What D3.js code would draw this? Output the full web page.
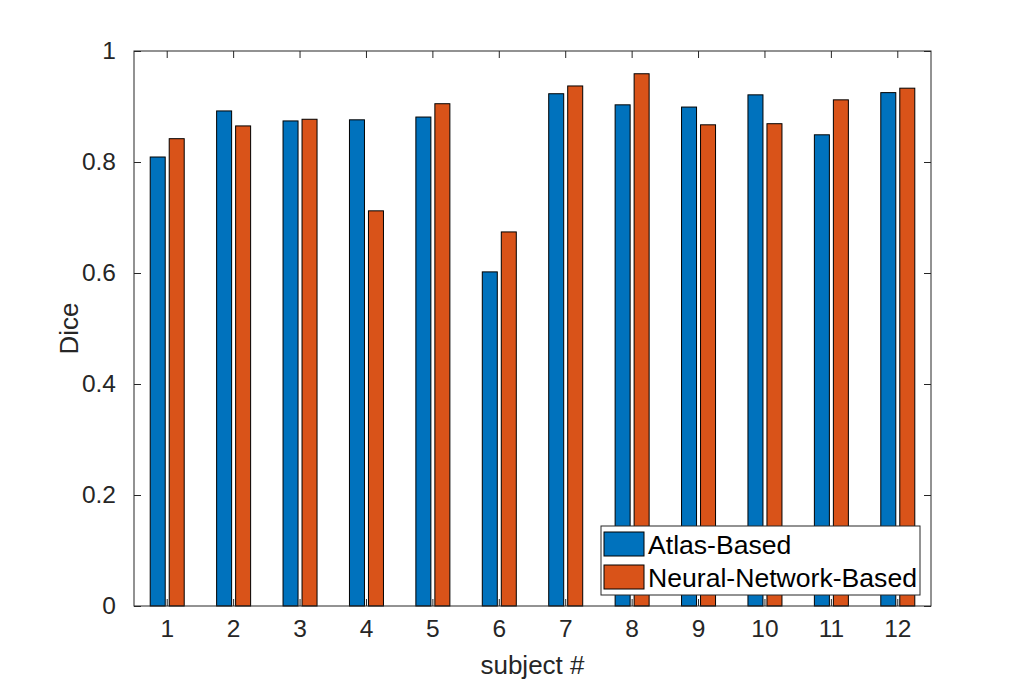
<!DOCTYPE html>
<html>
<head>
<meta charset="utf-8">
<script src="https://cdn.jsdelivr.net/npm/d3@7"></script>
<style>
  html, body { margin: 0; padding: 0; background: #fff; }
</style>
</head>
<body>
<div id="chart"></div>
<script>
const subjects = ['1', '2', '3', '4', '5', '6', '7', '8', '9', '10', '11', '12'];
const seriesNames = ['Atlas-Based', 'Neural-Network-Based'];
const atlasDice = [0.809, 0.892, 0.874, 0.876, 0.881, 0.602, 0.923, 0.903, 0.899, 0.921, 0.849, 0.925];
const networkDice = [0.842, 0.865, 0.877, 0.712, 0.905, 0.674, 0.937, 0.959, 0.867, 0.869, 0.912, 0.933];
const yTicks = [0, 0.2, 0.4, 0.6, 0.8, 1];

class GroupedBars {
  constructor(container, config) {
    this.container = container;

    let defaults = {
      width: 1030,
      height: 682,
      margin: { top: 51, right: 99, bottom: 76, left: 134 },
      colors: ['#0072BD', '#D95319'],
      axisColor: '#262626',
      fontFamily: "'Liberation Sans', Arial, Helvetica, sans-serif",
      tickFontSize: 24.5,
      labelFontSize: 26,
      legendFontSize: 26.6,
      tickLength: 7
    };
    Object.assign(this, defaults, config);

    this.init();
  }

  init() {
    this.drawSvg();
    this.buildScales();
    this.drawBars();
    this.drawAxes();
    this.drawLabels();
    this.drawLegend();
  }

  drawSvg() {
    this.innerWidth = this.width - this.margin.left - this.margin.right;
    this.innerHeight = this.height - this.margin.top - this.margin.bottom;

    this.svg = d3.select(this.container)
      .append('svg')
      .attr('width', this.width)
      .attr('height', this.height)
      .style('display', 'block');

    this.plot = this.svg.append('g')
      .attr('transform', `translate(${this.margin.left}, ${this.margin.top})`);
  }

  buildScales() {
    this.x0 = d3.scaleBand()
      .domain(subjects)
      .range([0, this.innerWidth]);

    // two bars per subject, 15px wide with a small gap, centred on the tick
    let bw = this.x0.bandwidth();
    this.x1 = d3.scaleBand()
      .domain(seriesNames)
      .range([bw / 2 - 17, bw / 2 + 17])
      .paddingInner(4 / 19);

    this.y = d3.scaleLinear()
      .domain([0, 1])
      .range([this.innerHeight, 0]);

    this.rows = subjects.map((s, i) => ({
      subject: s,
      values: [
        { name: seriesNames[0], value: atlasDice[i] },
        { name: seriesNames[1], value: networkDice[i] }
      ]
    }));
  }

  drawBars() {
    let groups = this.plot.append('g').attr('class', 'bars')
      .selectAll('g')
      .data(this.rows)
      .join('g')
      .attr('transform', d => `translate(${this.x0(d.subject)}, 0)`);

    groups.selectAll('rect')
      .data(d => d.values)
      .join('rect')
      .attr('x', d => this.x1(d.name))
      .attr('width', this.x1.bandwidth())
      .attr('y', d => this.y(d.value))
      .attr('height', d => this.y(0) - this.y(d.value))
      .attr('fill', (d, i) => this.colors[i])
      .attr('stroke', '#000')
      .attr('stroke-width', 1);
  }

  styleAxis(g, showText) {
    g.select('.domain').remove();
    g.selectAll('.tick line').attr('stroke', this.axisColor).attr('stroke-width', 1);
    g.selectAll('.tick text')
      .attr('fill', this.axisColor)
      .style('font-family', this.fontFamily)
      .style('font-size', `${this.tickFontSize}px`)
      .style('display', showText ? null : 'none');
  }

  drawAxes() {
    let tl = this.tickLength;

    let bottom = this.plot.append('g')
      .attr('transform', `translate(0, ${this.innerHeight})`)
      .call(d3.axisBottom(this.x0).tickSizeInner(-tl).tickSizeOuter(0).tickPadding(14));
    this.styleAxis(bottom, true);
    bottom.selectAll('.tick text').attr('dy', '0.71em');

    let top = this.plot.append('g')
      .call(d3.axisTop(this.x0).tickSizeInner(-tl).tickSizeOuter(0));
    this.styleAxis(top, false);

    let fmt = d3.format('~g');
    let left = this.plot.append('g')
      .call(d3.axisLeft(this.y).tickValues(yTicks).tickFormat(fmt).tickSizeInner(-tl).tickSizeOuter(0).tickPadding(18));
    this.styleAxis(left, true);

    let right = this.plot.append('g')
      .attr('transform', `translate(${this.innerWidth}, 0)`)
      .call(d3.axisRight(this.y).tickValues(yTicks).tickSizeInner(-tl).tickSizeOuter(0));
    this.styleAxis(right, false);

    // box around the plot area
    this.plot.append('rect')
      .attr('x', 0)
      .attr('y', 0)
      .attr('width', this.innerWidth)
      .attr('height', this.innerHeight)
      .attr('fill', 'none')
      .attr('stroke', this.axisColor)
      .attr('stroke-width', 1);
  }

  drawLabels() {
    this.svg.append('text')
      .attr('x', this.margin.left + this.innerWidth / 2)
      .attr('y', 674)
      .attr('text-anchor', 'middle')
      .attr('fill', this.axisColor)
      .style('font-family', this.fontFamily)
      .style('font-size', `${this.labelFontSize}px`)
      .text('subject #');

    this.svg.append('text')
      .attr('transform', `translate(78, ${this.margin.top + this.innerHeight / 2}) rotate(-90)`)
      .attr('text-anchor', 'middle')
      .attr('fill', this.axisColor)
      .style('font-family', this.fontFamily)
      .style('font-size', `${this.labelFontSize}px`)
      .text('Dice');
  }

  drawLegend() {
    let legend = this.svg.append('g')
      .attr('class', 'legend')
      .attr('transform', 'translate(601, 526)');

    legend.append('rect')
      .attr('width', 319)
      .attr('height', 69)
      .attr('fill', '#fff')
      .attr('stroke', this.axisColor)
      .attr('stroke-width', 1);

    let items = legend.selectAll('g.item')
      .data(seriesNames)
      .join('g')
      .attr('class', 'item')
      .attr('transform', (d, i) => `translate(3, ${6 + i * 33})`);

    items.append('rect')
      .attr('width', 40)
      .attr('height', 24)
      .attr('fill', (d, i) => this.colors[i])
      .attr('stroke', '#000')
      .attr('stroke-width', 1);

    items.append('text')
      .attr('x', 44)
      .attr('y', 12)
      .attr('dy', '0.36em')
      .attr('fill', '#000')
      .style('font-family', this.fontFamily)
      .style('font-size', `${this.legendFontSize}px`)
      .text(d => d);
  }
}

new GroupedBars(document.getElementById('chart'), {});
</script>
</body>
</html>
